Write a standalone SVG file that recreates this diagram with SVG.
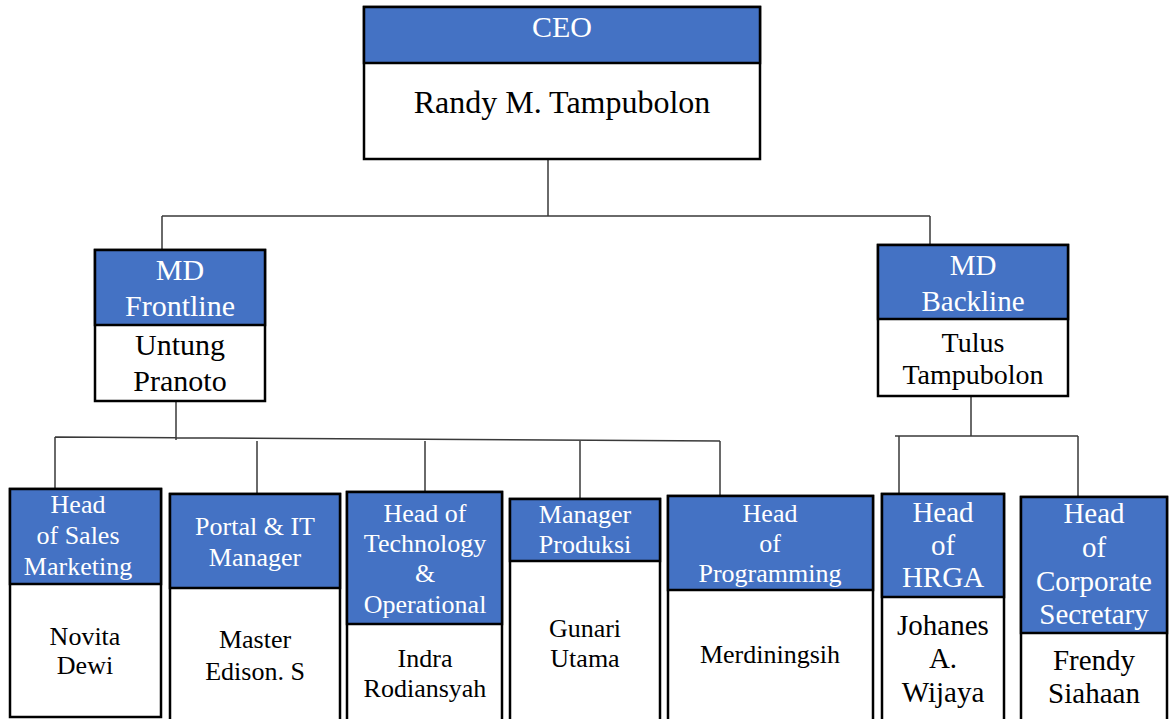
<svg xmlns="http://www.w3.org/2000/svg" width="1169" height="719" viewBox="0 0 1169 719">
  <style>
    .hd { fill: #4472C4; stroke: #000; stroke-width: 2.5; }
    .bd { fill: #FFFFFF; stroke: #000; stroke-width: 2.5; }
    .t { font-family: 'Liberation Serif', 'DejaVu Serif', serif; text-anchor: middle; }
    .w { fill: #FFFFFF; }
    .k { fill: #000000; }
    .ln { stroke: #3a3a3a; stroke-width: 1.5; fill: none; }
  </style>
  <rect width="1169" height="719" fill="#FFFFFF"/>

  <!-- reporting lines -->
  <g id="connectors">
    <path class="ln" d="M548 160 V216 M162 216 H930 M162 216 V250 M930 216 V245"/>
    <path class="ln" d="M176 401 V440 M55 437 L720 441 M55 437 V488 M257 441 V493 M425 441 V491 M580 441 V498 M720 441 V495"/>
    <path class="ln" d="M971 396 V436 M895 436 H1078 M899 436 V493 M1078 436 V496"/>
  </g>

  <g id="ceo">
    <rect class="bd" x="364" y="7" width="396" height="152"/>
    <rect class="hd" x="364" y="7" width="396" height="56"/>
    <text class="t w" x="562" y="37" font-size="30">CEO</text>
    <text class="t k" x="562" y="113" font-size="32">Randy M. Tampubolon</text>
  </g>

  <g id="md-frontline">
    <rect class="bd" x="95" y="250" width="170" height="151"/>
    <rect class="hd" x="95" y="250" width="170" height="75"/>
    <text class="t w" font-size="30"><tspan x="180" y="280">MD</tspan><tspan x="180" y="316">Frontline</tspan></text>
    <text class="t k" font-size="30"><tspan x="180" y="355">Untung</tspan><tspan x="180" y="391">Pranoto</tspan></text>
  </g>

  <g id="md-backline">
    <rect class="bd" x="878" y="245" width="190" height="151"/>
    <rect class="hd" x="878" y="245" width="190" height="74"/>
    <text class="t w" font-size="29"><tspan x="973" y="275">MD</tspan><tspan x="973" y="311">Backline</tspan></text>
    <text class="t k" font-size="28"><tspan x="973" y="352">Tulus</tspan><tspan x="973" y="384">Tampubolon</tspan></text>
  </g>

  <g id="head-sales-marketing">
    <rect class="bd" x="10" y="489" width="151" height="228"/>
    <rect class="hd" x="10" y="489" width="151" height="95"/>
    <text class="t w" font-size="26"><tspan x="78" y="513">Head</tspan><tspan x="78" y="544">of Sales</tspan><tspan x="78" y="575">Marketing</tspan></text>
    <text class="t k" font-size="26"><tspan x="85" y="645">Novita</tspan><tspan x="85" y="674">Dewi</tspan></text>
  </g>

  <g id="portal-it-manager">
    <rect class="bd" x="170" y="494" width="170" height="240"/>
    <rect class="hd" x="170" y="494" width="170" height="94"/>
    <text class="t w" font-size="26"><tspan x="255" y="535">Portal &amp; IT</tspan><tspan x="255" y="566">Manager</tspan></text>
    <text class="t k" font-size="26"><tspan x="255" y="648">Master</tspan><tspan x="255" y="680">Edison. S</tspan></text>
  </g>

  <g id="head-technology-operational">
    <rect class="bd" x="347" y="492" width="155" height="240"/>
    <rect class="hd" x="347" y="492" width="155" height="132"/>
    <text class="t w" font-size="26"><tspan x="425" y="522">Head of</tspan><tspan x="425" y="552">Technology</tspan><tspan x="425" y="582">&amp;</tspan><tspan x="425" y="613">Operational</tspan></text>
    <text class="t k" font-size="26"><tspan x="425" y="667">Indra</tspan><tspan x="425" y="697">Rodiansyah</tspan></text>
  </g>

  <g id="manager-produksi">
    <rect class="bd" x="510" y="499" width="150" height="235"/>
    <rect class="hd" x="510" y="499" width="150" height="62"/>
    <text class="t w" font-size="26"><tspan x="585" y="523">Manager</tspan><tspan x="585" y="553">Produksi</tspan></text>
    <text class="t k" font-size="26"><tspan x="585" y="637">Gunari</tspan><tspan x="585" y="667">Utama</tspan></text>
  </g>

  <g id="head-programming">
    <rect class="bd" x="668" y="496" width="205" height="238"/>
    <rect class="hd" x="668" y="496" width="205" height="94"/>
    <text class="t w" font-size="26"><tspan x="770" y="522">Head</tspan><tspan x="770" y="552">of</tspan><tspan x="770" y="582">Programming</tspan></text>
    <text class="t k" x="770" y="663" font-size="26">Merdiningsih</text>
  </g>

  <g id="head-hrga">
    <rect class="bd" x="882" y="494" width="122" height="240"/>
    <rect class="hd" x="882" y="494" width="122" height="103"/>
    <text class="t w" font-size="29"><tspan x="943" y="522">Head</tspan><tspan x="943" y="555">of</tspan><tspan x="943" y="587">HRGA</tspan></text>
    <text class="t k" font-size="29"><tspan x="943" y="635">Johanes</tspan><tspan x="943" y="668">A.</tspan><tspan x="943" y="702">Wijaya</tspan></text>
  </g>

  <g id="head-corporate-secretary">
    <rect class="bd" x="1021" y="497" width="146" height="237"/>
    <rect class="hd" x="1021" y="497" width="146" height="136"/>
    <text class="t w" font-size="29"><tspan x="1094" y="523">Head</tspan><tspan x="1094" y="557">of</tspan><tspan x="1094" y="591">Corporate</tspan><tspan x="1094" y="624">Secretary</tspan></text>
    <text class="t k" font-size="29"><tspan x="1094" y="670">Frendy</tspan><tspan x="1094" y="703">Siahaan</tspan></text>
  </g>
</svg>
